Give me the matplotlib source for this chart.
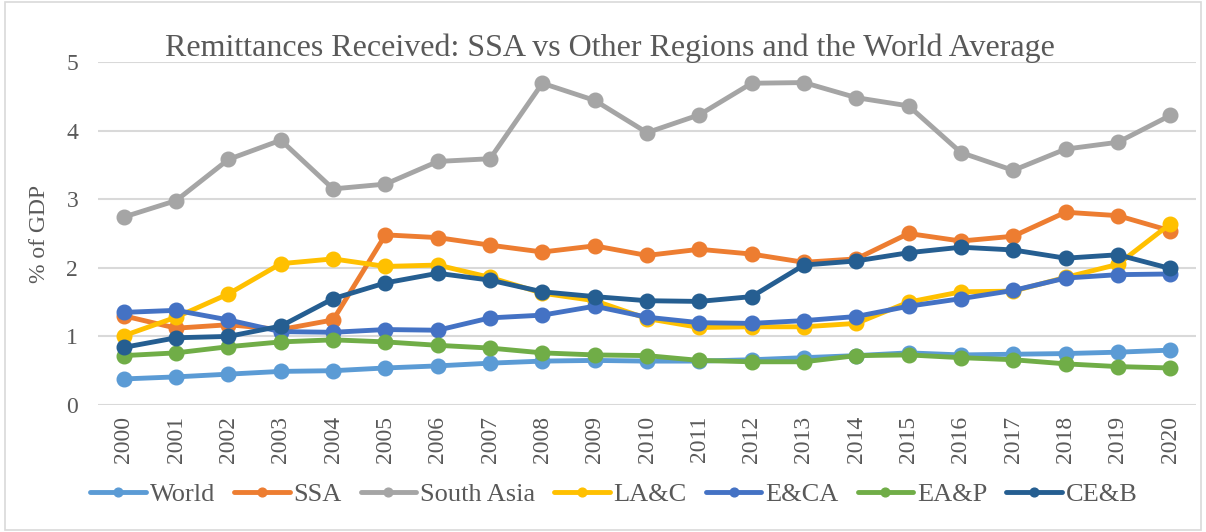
import numpy as np
import matplotlib.pyplot as plt
from matplotlib.patches import Rectangle

# Data ---------------------------------------------------------------------------------------
years = [str(y) for y in range(2000, 2021)]

world = [0.38, 0.41, 0.45, 0.49, 0.50, 0.54, 0.57, 0.61, 0.64, 0.65, 0.64,
         0.64, 0.66, 0.69, 0.72, 0.76, 0.73, 0.74, 0.75, 0.77, 0.80]
ssa = [1.30, 1.12, 1.17, 1.10, 1.24, 2.48, 2.44, 2.33, 2.23, 2.32, 2.18,
       2.27, 2.20, 2.08, 2.13, 2.50, 2.39, 2.46, 2.81, 2.76, 2.54]
south_asia = [2.74, 2.98, 3.58, 3.86, 3.15, 3.22, 3.55, 3.59, 4.69, 4.44, 3.97,
              4.23, 4.69, 4.70, 4.48, 4.36, 3.68, 3.42, 3.73, 3.83, 4.22]
lac = [1.01, 1.28, 1.62, 2.06, 2.13, 2.02, 2.04, 1.86, 1.63, 1.52, 1.26,
       1.13, 1.14, 1.14, 1.19, 1.50, 1.65, 1.66, 1.86, 2.05, 2.64]
eca = [1.35, 1.38, 1.24, 1.07, 1.06, 1.10, 1.09, 1.27, 1.31, 1.44, 1.28,
       1.20, 1.19, 1.23, 1.29, 1.44, 1.55, 1.67, 1.85, 1.90, 1.91]
eap = [0.72, 0.76, 0.85, 0.92, 0.95, 0.92, 0.87, 0.83, 0.76, 0.73, 0.72,
       0.65, 0.63, 0.63, 0.72, 0.73, 0.69, 0.66, 0.60, 0.56, 0.54]
ceb = [0.84, 0.98, 1.00, 1.15, 1.55, 1.78, 1.92, 1.82, 1.65, 1.58, 1.52,
       1.51, 1.58, 2.04, 2.10, 2.22, 2.30, 2.26, 2.14, 2.19, 1.99]

series = [('World', world, '#5B9BD5'),
          ('SSA', ssa, '#ED7D31'),
          ('South Asia', south_asia, '#A5A5A5'),
          ('LA&C', lac, '#FFC000'),
          ('E&CA', eca, '#4472C4'),
          ('EA&P', eap, '#70AD47'),
          ('CE&B', ceb, '#255E91')]

# Aesthetics ---------------------------------------------------------------------------------
plt.rcParams['font.family'] = 'Liberation Serif'
txt = '#595959'

fig = plt.figure(figsize=(12.06, 5.32), dpi=100)
ax = fig.add_axes([0.081, 0.2387, 0.911, 0.6448])

x = np.arange(len(years))
for name, vals, col in series:
    ax.plot(x, vals, color=col, linewidth=3.5, marker='o', markersize=10.5,
            label=name, solid_capstyle='round')

ax.set_xlim(-0.5, len(years) - 0.5)
ax.set_ylim(0, 5)
ax.set_yticks(range(6))
ax.set_xticks(x)
ax.set_xticklabels(years, rotation=90)
ax.tick_params(axis='x', length=0, labelsize=17, colors=txt, pad=8)
ax.tick_params(axis='y', length=0, labelsize=17, colors=txt, pad=14)
ax.grid(axis='y', color='#D9D9D9', linewidth=1.5)
ax.set_axisbelow(True)
for s in ax.spines.values():
    s.set_visible(False)

ax.set_ylabel('% of GDP', fontsize=17, color=txt, labelpad=12)
fig.text(0.506, 0.91, 'Remittances Received: SSA vs Other Regions and the World Average',
         ha='center', va='center', fontsize=23, color=txt)

fig.legend(loc='center', bbox_to_anchor=(0.509, 0.07), ncol=7, frameon=False,
           fontsize=19, labelcolor=txt, handlelength=2.1, handletextpad=0.15,
           columnspacing=0.72, borderaxespad=0, markerscale=0.6)

fig.patches.append(Rectangle((0.004, 0.004), 0.992, 0.992, transform=fig.transFigure,
                             fill=False, edgecolor='#D9D9D9', linewidth=1.2))

fig.savefig('out.png', dpi=100)
